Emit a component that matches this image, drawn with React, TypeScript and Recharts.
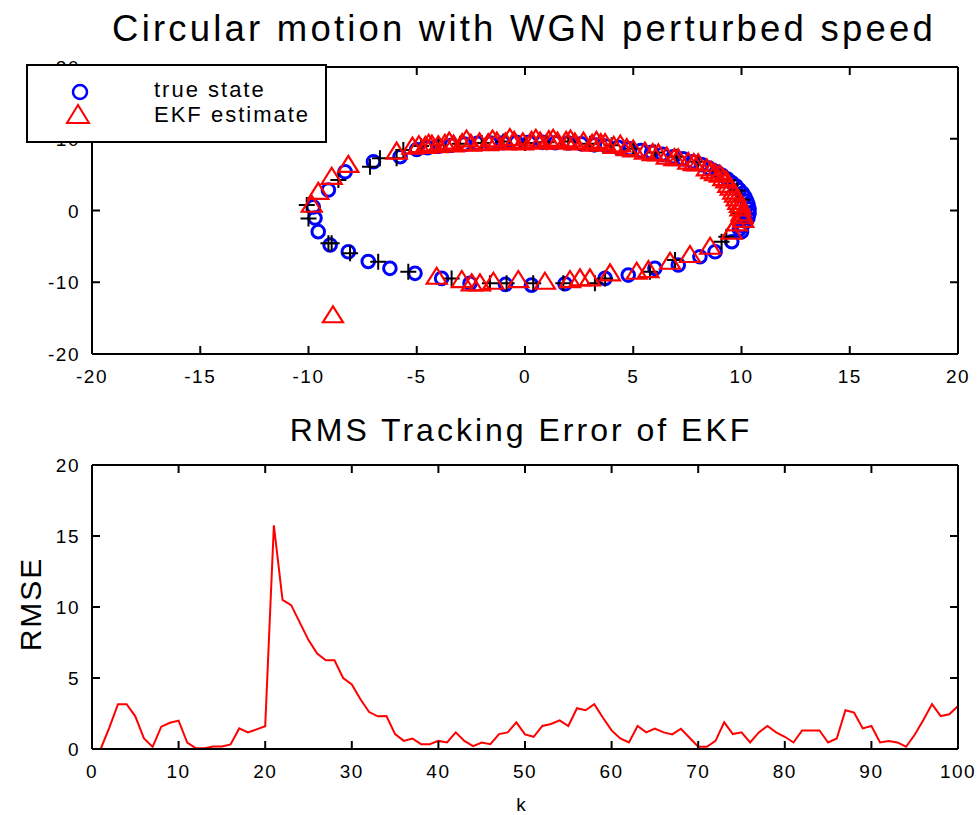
import { ScatterChart, Scatter, LineChart, Line, XAxis, YAxis } from 'recharts';

// true state (blue circles)
const trueX = [9.9, 10.05, 10.2, 10.3, 10.35, 10.35, 10.3, 10.25, 10.15, 10.05, 9.9, 9.75, 9.55, 9.35, 9.1, 8.85, 8.5, 8.15, 7.75, 7.3, 6.85, 6.35, 5.85, 5.35, 4.85, 4.3, 3.75, 3.2, 2.6, 2.0, 1.4, 0.8, 0.2, -0.4, -1.0, -1.6, -2.2, -2.8, -3.4, -4.0, -4.5, -5.0, -5.77, -7.0, -8.31, -9.08, -9.78, -9.7, -9.55, -9.0, -8.16, -7.24, -6.24, -5.08, -3.85, -2.54, -0.9, 0.3, 1.85, 3.7, 4.77, 6.0, 7.08, 8.08, 8.78, 9.55, 10.0];
const trueY = [-2.6, -2.1, -1.5, -1.0, -0.4, 0.2, 0.8, 1.3, 1.9, 2.4, 2.9, 3.4, 3.9, 4.4, 4.9, 5.4, 5.9, 6.4, 6.8, 7.2, 7.5, 7.85, 8.1, 8.35, 8.6, 8.8, 9.0, 9.15, 9.3, 9.4, 9.45, 9.5, 9.5, 9.5, 9.45, 9.4, 9.35, 9.25, 9.1, 8.95, 8.75, 8.5, 7.5, 6.8, 5.4, 2.86, 0.5, -1.05, -2.95, -4.8, -5.75, -7.1, -8.06, -8.76, -9.46, -10.15, -10.3, -10.4, -10.2, -9.46, -9.0, -8.06, -7.6, -6.44, -5.75, -4.35, -2.95];

// EKF estimate (red triangles)
const estX = [-9.85, -9.55, -8.93, -8.16, -5.93, -8.87, -5.2, -4.9, -4.6, -4.3, -4.0, -3.7, -3.3, -2.9, -2.5, -2.1, -1.7, -1.3, -0.9, -0.5, -0.1, 0.3, 0.7, 1.1, 1.5, 1.9, 2.3, 2.7, 3.1, 3.5, 3.7, 4.1, 4.7, 5.0, 5.54, 5.9, 6.16, 6.55, 6.9, 7.08, 7.54, 7.8, 8.0, 8.4, 8.6, 8.78, 9.0, 9.16, 9.3, 9.39, 9.5, 9.62, 9.7, 9.78, 9.85, 9.93, 9.95, 10.0, 10.05, 10.08, 9.78, 9.55, 8.55, 7.62, 6.7, 5.7, 5.16, 3.93, 3.0, 2.54, 2.08, 0.92, -0.31, -1.46, -2.08, -2.46, -2.92, -4.08, -4.45, -3.5, -2.7, -1.5, -0.7, 0.5, 1.3, 2.1, 3.3, 4.4];
const estY = [0.8, 2.6, 4.7, 6.35, 8.2, -14.6, 8.9, 9.1, 9.0, 9.2, 9.1, 9.3, 9.2, 9.4, 9.3, 9.5, 9.4, 9.6, 9.5, 9.7, 9.5, 9.7, 9.6, 9.8, 9.6, 9.7, 9.5, 9.6, 9.3, 9.4, 9.4, 9.0, 8.7, 8.5, 8.2, 8.0, 7.97, 7.5, 7.3, 7.28, 6.8, 6.6, 6.58, 5.88, 5.5, 5.19, 5.0, 4.5, 4.2, 3.56, 3.2, 2.62, 2.2, 1.7, 1.2, 0.77, 0.3, -0.4, -0.8, -1.3, -1.8, -2.96, -5.05, -6.2, -7.14, -8.3, -8.54, -8.76, -9.46, -9.46, -9.69, -9.93, -9.69, -9.93, -10.15, -10.15, -9.69, -9.23, 9.3, 9.6, 9.9, 9.9, 10.1, 10.0, 10.0, 9.9, 9.7, 9.2];

// black plus markers
const plusX = [-10.08, -10.0, -9.08, -8.93, -8.08, -6.78, -5.39, -3.39, -1.62, -0.85, 0.38, 1.77, 3.23, 3.7, 5.77, 6.93, 9.08, 9.3, 9.93, -8.62, -7.16, -6.7, -5.93, -5.62, -4.8, -4.0, -3.0, -2.0, -1.0, 0.0, 1.0, 2.0, 3.0, 4.0, 5.0, 6.0, 7.0, 8.0, 8.8, 9.4, 9.8, 10.0];
const plusY = [0.77, -1.1, -4.58, -4.58, -5.97, -7.14, -8.54, -9.46, -10.15, -10.15, -10.15, -10.15, -10.15, -9.46, -8.54, -6.9, -4.35, -3.65, -0.35, 4.25, 6.1, 7.28, 7.28, 8.44, 9.0, 9.1, 9.3, 9.4, 9.6, 9.4, 9.5, 9.6, 9.3, 9.1, 8.6, 8.1, 7.5, 6.8, 5.5, 4.2, 2.8, 1.5];

const rmse = [0, 1.5, 3.15, 3.15, 2.3, 0.75, 0.15, 1.57, 1.85, 2.0, 0.45, 0.05, 0.05, 0.18, 0.18, 0.32, 1.45, 1.17, 1.38, 1.6, 15.75, 10.5, 10.13, 8.9, 7.67, 6.72, 6.25, 6.25, 5.0, 4.55, 3.5, 2.6, 2.3, 2.32, 1.05, 0.57, 0.74, 0.34, 0.34, 0.57, 0.46, 1.17, 0.57, 0.2, 0.46, 0.34, 1.05, 1.17, 1.88, 1.03, 0.86, 1.62, 1.76, 2.02, 1.62, 2.87, 2.73, 3.16, 2.2, 1.31, 0.74, 0.46, 1.62, 1.17, 1.43, 1.17, 1.03, 1.43, 0.79, 0.16, 0.16, 0.57, 1.88, 1.05, 1.17, 0.46, 1.17, 1.62, 1.17, 0.86, 0.46, 1.31, 1.31, 1.31, 0.46, 0.74, 2.73, 2.56, 1.45, 1.62, 0.46, 0.57, 0.46, 0.16, 1.0, 2.05, 3.16, 2.32, 2.45, 3.03];

const xyTicks = [-20, -15, -10, -5, 0, 5, 10, 15, 20];
const yTopTicks = [-20, -10, 0, 10, 20];
const kTicks = [0, 10, 20, 30, 40, 50, 60, 70, 80, 90, 100];
const rmseTicks = [0, 5, 10, 15, 20];

const zip = (xs: number[], ys: number[]) => xs.map((x, i) => ({ x, y: ys[i] }));
const trueData = zip(trueX, trueY);
const estData = zip(estX, estY);
const plusData = zip(plusX, plusY);
const rmseData = rmse.map((v, i) => ({ k: i + 1, v }));

const FONT = '"Liberation Sans", Arial, sans-serif';
const TICK = 8;

const BottomTick = (p: any) => (
  <g>
    <line x1={p.x} x2={p.x} y1={p.y} y2={p.y - TICK} stroke="#000" strokeWidth={2} />
    <text x={p.x} y={p.y + 29} textAnchor="middle" fontSize={19} fontFamily={FONT} letterSpacing={1.5}>{p.payload.value}</text>
  </g>
);
const LeftTick = (p: any) => (
  <g>
    <line x1={p.x} x2={p.x + TICK} y1={p.y} y2={p.y} stroke="#000" strokeWidth={2} />
    <text x={p.x - 12} y={p.y + 7} textAnchor="end" fontSize={19} fontFamily={FONT} letterSpacing={1.5}>{p.payload.value}</text>
  </g>
);
const TopTick = (p: any) => (
  <line x1={p.x} x2={p.x} y1={p.y} y2={p.y + TICK} stroke="#000" strokeWidth={2} />
);
const RightTick = (p: any) => (
  <line x1={p.x} x2={p.x - TICK} y1={p.y} y2={p.y} stroke="#000" strokeWidth={2} />
);

const CircleMark = (p: any) => <circle cx={p.cx} cy={p.cy} r={6.3} fill="none" stroke="#0000ff" strokeWidth={3} />;
const TriMark = (p: any) => (
  <polygon points={`${p.cx},${p.cy - 9} ${p.cx - 10},${p.cy + 7} ${p.cx + 10},${p.cy + 7}`} fill="none" stroke="#ff0000" strokeWidth={2.2} />
);
const PlusMark = (p: any) => (
  <path d={`M${p.cx - 8},${p.cy}H${p.cx + 8}M${p.cx},${p.cy - 8}V${p.cy + 8}`} stroke="#000" strokeWidth={2} />
);

const axisLine = { stroke: '#000', strokeWidth: 2 };

export default function App() {
  return (
    <div style={{ position: 'absolute', left: 0, top: 0, width: 980, height: 815, background: '#fff' }}>
      <div style={{ position: 'absolute', left: 0, top: 0 }}>
        <ScatterChart width={980} height={400} margin={{ top: 0, right: 0, bottom: 0, left: 0 }}>
          <XAxis xAxisId="b" type="number" dataKey="x" domain={[-20, 20]} ticks={xyTicks} orientation="bottom" height={46} axisLine={axisLine} tickLine={false} tickSize={0} tickMargin={0} tick={<BottomTick />} interval={0} />
          <XAxis xAxisId="t" type="number" dataKey="x" domain={[-20, 20]} ticks={xyTicks} orientation="top" height={67} axisLine={axisLine} tickLine={false} tickSize={0} tickMargin={0} tick={<TopTick />} interval={0} />
          <YAxis yAxisId="l" type="number" dataKey="y" domain={[-20, 20]} ticks={yTopTicks} orientation="left" width={92} axisLine={axisLine} tickLine={false} tickSize={0} tickMargin={0} tick={<LeftTick />} interval={0} />
          <YAxis yAxisId="r" type="number" dataKey="y" domain={[-20, 20]} ticks={yTopTicks} orientation="right" width={22} axisLine={axisLine} tickLine={false} tickSize={0} tickMargin={0} tick={<RightTick />} interval={0} />
          <Scatter data={trueData} xAxisId="b" yAxisId="l" shape={<CircleMark />} isAnimationActive={false} />
          <Scatter data={plusData} xAxisId="t" yAxisId="r" shape={<PlusMark />} isAnimationActive={false} />
          <Scatter data={estData} xAxisId="b" yAxisId="l" shape={<TriMark />} isAnimationActive={false} />
        </ScatterChart>
      </div>
      <div style={{ position: 'absolute', left: 0, top: 400 }}>
        <LineChart width={980} height={415} data={rmseData} margin={{ top: 0, right: 0, bottom: 0, left: 0 }}>
          <XAxis xAxisId="b" type="number" dataKey="k" domain={[0, 100]} ticks={kTicks} orientation="bottom" height={66} axisLine={axisLine} tickLine={false} tickSize={0} tickMargin={0} tick={<BottomTick />} interval={0} />
          <XAxis xAxisId="t" type="number" dataKey="k" domain={[0, 100]} ticks={kTicks} orientation="top" height={65} axisLine={axisLine} tickLine={false} tickSize={0} tickMargin={0} tick={<TopTick />} interval={0} />
          <YAxis yAxisId="l" type="number" domain={[0, 20]} ticks={rmseTicks} orientation="left" width={92} axisLine={axisLine} tickLine={false} tickSize={0} tickMargin={0} tick={<LeftTick />} interval={0} />
          <YAxis yAxisId="r" type="number" domain={[0, 20]} ticks={rmseTicks} orientation="right" width={22} axisLine={axisLine} tickLine={false} tickSize={0} tickMargin={0} tick={<RightTick />} interval={0} />
          <Line dataKey="v" xAxisId="b" yAxisId="l" stroke="#ff0000" strokeWidth={2} dot={false} isAnimationActive={false} />
          <Line dataKey="v" xAxisId="t" yAxisId="r" stroke="none" dot={false} isAnimationActive={false} />
        </LineChart>
      </div>
      <svg width={980} height={815} style={{ position: 'absolute', left: 0, top: 0, pointerEvents: 'none' }} fontFamily={FONT}>
        <text x={524} y={41} textAnchor="middle" fontSize={36.5} letterSpacing={3.2}>Circular motion with WGN perturbed speed</text>
        <text x={521} y={441} textAnchor="middle" fontSize={32} letterSpacing={3}>RMS Tracking Error of EKF</text>
        <text transform="translate(41,604) rotate(-90)" textAnchor="middle" fontSize={30} letterSpacing={2}>RMSE</text>
        <text x={521} y={811} textAnchor="middle" fontSize={19}>k</text>
        <rect x={27} y={65} width={299} height={77} fill="#fff" stroke="#000" strokeWidth={2} />
        <circle cx={80} cy={92} r={7} fill="none" stroke="#0000ff" strokeWidth={2.5} />
        <polygon points="78,105 67,123 89,123" fill="none" stroke="#ff0000" strokeWidth={2} />
        <text x={154} y={97} fontSize={22} letterSpacing={2}>true state</text>
        <text x={154} y={122} fontSize={22} letterSpacing={2}>EKF estimate</text>
      </svg>
    </div>
  );
}
